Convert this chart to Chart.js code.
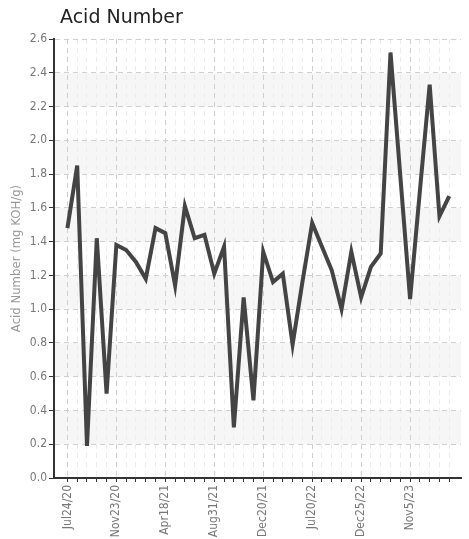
<!DOCTYPE html>
<html>
<head>
<meta charset="utf-8">
<script src="https://cdn.jsdelivr.net/npm/chart.js@4.4.1/dist/chart.umd.min.js"></script>
<style>
  body { margin: 0; background: #fff; }
  #contenedor { position: relative; width: 469px; height: 539px; }
  #titulo {
    position: absolute; left: 60px; top: 7px;
    font-family: "DejaVu Sans", Verdana, sans-serif; font-size: 19px; line-height: 19px;
    color: #222;
  }
</style>
</head>
<body>
<div id="contenedor">
  <div id="titulo">Acid Number</div>
  <canvas id="myChart" width="469" height="539"></canvas>
</div>
<script>
// fechas que se ven en el eje x (una cada 5 muestras)
const indicesEtiquetas = [0, 5, 10, 15, 20, 25, 30, 35];
const etiquetasFechas = ["Jul24/20", "Nov23/20", "Apr18/21", "Aug31/21", "Dec20/21", "Jul20/22", "Dec25/22", "Nov5/23"];

// valores (mg KOH/g)
const acidNumber = [
  1.48, 1.85, 0.19, 1.42, 0.50, 1.38, 1.35, 1.28, 1.18, 1.48,
  1.45, 1.14, 1.61, 1.42, 1.44, 1.21, 1.37, 0.30, 1.07, 0.46,
  1.34, 1.16, 1.21, 0.79, 1.16, 1.51, 1.37, 1.23, 1.00, 1.34,
  1.07, 1.25, 1.33, 2.52, 1.79, 1.06, 1.70, 2.33, 1.55, 1.67
];

const fuenteEjes = '"DejaVu Sans Condensed", "Liberation Sans Narrow", "Roboto Condensed", "Roboto", sans-serif';

// franjas grises alternas detras de la rejilla (0.2-0.4, 0.6-0.8, ...)
const pluginFranjas = {
  id: "franjas",
  beforeDraw: function (chart) {
    const ctx = chart.ctx;
    const area = chart.chartArea;
    const y = chart.scales.y;
    ctx.save();
    ctx.fillStyle = "#f6f6f6";
    for (let k = 0; k < 6; k++) {
      const v = 0.2 + k * 0.4;
      const arriba = y.getPixelForValue(v + 0.2);
      const abajo = y.getPixelForValue(v);
      ctx.fillRect(area.left, arriba, area.right - area.left, abajo - arriba);
    }
    ctx.restore();
  }
};

const ctx = document.getElementById("myChart").getContext("2d");
new Chart(ctx, {
  type: "line",
  data: {
    datasets: [{
      label: "Acid Number",
      data: acidNumber.map(function (v, i) { return { x: i, y: v }; }),
      borderColor: "#444",
      borderWidth: 4,
      pointRadius: 0,
      tension: 0,
      fill: false
    }]
  },
  options: {
    responsive: false,
    animation: false,
    layout: { padding: { top: 39, right: 8, left: 0, bottom: 0 } },
    plugins: {
      legend: { display: false },
      title: { display: false },
      tooltip: { enabled: false }
    },
    scales: {
      x: {
        type: "linear",
        min: -1.37,
        max: 40.2,
        afterBuildTicks: function (scale) {
          scale.ticks = acidNumber.map(function (v, i) { return { value: i }; });
        },
        afterFit: function (scale) { scale.height = 61; },
        ticks: {
          autoSkip: false,
          minRotation: 90,
          maxRotation: 90,
          padding: 3,
          color: "#777",
          font: { family: fuenteEjes, size: 12 },
          callback: function (valor) {
            const k = indicesEtiquetas.indexOf(valor);
            return k >= 0 ? etiquetasFechas[k] : "";
          }
        },
        grid: {
          color: function (c) {
            return c.tick && c.tick.value % 5 === 0 ? "#cfcfcf" : "#ececec";
          },
          lineWidth: 1,
          tickLength: 4,
          tickColor: "#333"
        },
        border: { display: true, color: "#333", width: 2, dash: [5, 4] }
      },
      y: {
        min: 0,
        max: 2.6,
        afterFit: function (scale) { scale.width = 54; },
        ticks: {
          stepSize: 0.2,
          padding: 2,
          color: "#777",
          font: { family: fuenteEjes, size: 12 },
          callback: function (valor) { return Number(valor).toFixed(1); }
        },
        grid: {
          color: "#d0d0d0",
          lineWidth: 1,
          tickLength: 5,
          tickColor: "#333"
        },
        border: { display: true, color: "#333", width: 2, dash: [5, 4] },
        title: {
          display: true,
          text: "Acid Number (mg KOH/g)",
          color: "#999",
          font: { family: fuenteEjes, size: 13 },
          padding: { top: 9, bottom: 0 }
        }
      }
    }
  },
  plugins: [pluginFranjas]
});
</script>
</body>
</html>
